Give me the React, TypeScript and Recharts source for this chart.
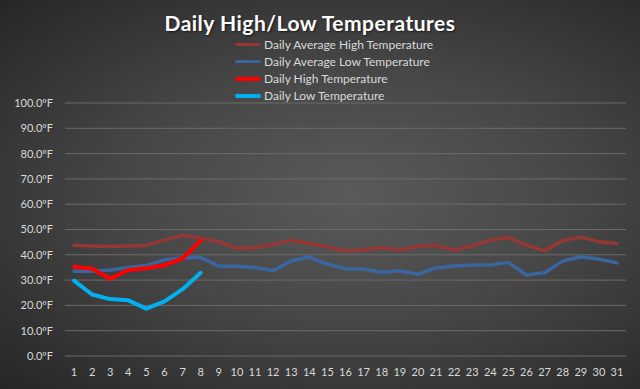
import { LineChart, Line, XAxis, YAxis, CartesianGrid } from "recharts";

const days = Array.from({ length: 31 }, (_, i) => String(i + 1));

const avgHigh = [
  43.8, 43.5, 43.3, 43.5, 43.8, 45.8, 47.7, 46.5, 45.2, 42.5, 42.8, 44.2, 45.7, 44.5, 43.2, 41.5,
  42.1, 42.8, 41.9, 43.3, 43.8, 41.9, 43.5, 45.8, 46.8, 43.7, 41.6, 45.6, 47.0, 45.2, 44.5,
];
const avgLow = [
  33.5, 33.5, 34.0, 35.0, 35.8, 38.0, 38.7, 39.0, 35.5, 35.5, 35.0, 33.7, 37.6, 39.1, 36.3, 34.5,
  34.4, 33.1, 33.7, 32.3, 34.8, 35.6, 36.0, 36.0, 37.0, 32.0, 32.9, 37.5, 39.2, 38.3, 36.8,
];
const dailyHigh = [35.3, 34.5, 30.5, 34.0, 34.7, 35.9, 38.6, 45.6];
const dailyLow = [29.8, 24.3, 22.5, 22.0, 18.7, 21.6, 26.4, 32.9];
const yTicks = [0, 10, 20, 30, 40, 50, 60, 70, 80, 90, 100];

const seriesInfo = [
  { key: "avgHigh", name: "Daily Average High Temperature", color: "#953735", width: 3.5 },
  { key: "avgLow", name: "Daily Average Low Temperature", color: "#3a66a0", width: 3.5 },
  { key: "dailyHigh", name: "Daily High Temperature", color: "#ff0000", width: 4 },
  { key: "dailyLow", name: "Daily Low Temperature", color: "#00b0f0", width: 4 },
];

const data = days.map((d, i) => ({
  day: d,
  avgHigh: avgHigh[i],
  avgLow: avgLow[i],
  dailyHigh: dailyHigh[i],
  dailyLow: dailyLow[i],
}));

const font = "Lato, 'Open Sans', sans-serif";

export default function App() {
  return (
    <div
      style={{
        position: "relative",
        width: 640,
        height: 389,
        background: "radial-gradient(ellipse at 55% 50%, #5a5a5a 0%, #474747 45%, #262626 100%)",
        fontFamily: font,
        overflow: "hidden",
      }}
    >
      <style>{`body{margin:0}`}</style>
      <div
        style={{
          position: "absolute",
          top: 10,
          left: 0,
          width: 620,
          textAlign: "center",
          color: "#ffffff",
          fontWeight: 700,
          fontSize: 21,
          letterSpacing: 0.5,
          textShadow: "1px 1px 2px rgba(0,0,0,0.6)",
        }}
      >
        Daily High/Low Temperatures
      </div>
      {/* legend, stacked under the title */}
      <div
        style={{
          position: "absolute",
          top: 36,
          left: 235,
          fontSize: 12,
          color: "#d9d9d9",
          zIndex: 2,
        }}
      >
        {seriesInfo.map((s) => (
          <div key={s.key} style={{ display: "flex", alignItems: "center", height: 17 }}>
            <div
              style={{
                width: 26,
                height: s.width,
                background: s.color,
                borderRadius: 2,
                marginRight: 3,
              }}
            />
            <span>{s.name}</span>
          </div>
        ))}
      </div>
      <div style={{ position: "absolute", top: 0, left: 0 }}>
        <LineChart
          width={640}
          height={389}
          data={data}
          margin={{ top: 103, right: 14, bottom: 0, left: 0 }}
        >
          <CartesianGrid vertical={false} stroke="#6b6b6b" strokeWidth={1} />
          <XAxis
            dataKey="day"
            axisLine={false}
            tickLine={false}
            tickSize={0}
            tickMargin={12}
            height={33}
            interval={0}
            padding={{ left: 9, right: 9 }}
            tick={{ fill: "#d9d9d9", fontSize: 11, fontFamily: font }}
          />
          <YAxis
            domain={[0, 100]}
            ticks={yTicks}
            width={65}
            axisLine={false}
            tickLine={false}
            tickSize={0}
            tickMargin={12}
            tickFormatter={(v: number) => `${v.toFixed(1)}ºF`}
            tick={{ fill: "#d9d9d9", fontSize: 11, fontFamily: font }}
          />
          {seriesInfo.map((s) => (
            <Line
              key={s.key}
              dataKey={s.key}
              name={s.name}
              type="linear"
              stroke={s.color}
              strokeWidth={s.width}
              dot={false}
              strokeLinejoin="round"
              strokeLinecap="round"
              isAnimationActive={false}
            />
          ))}
        </LineChart>
      </div>
    </div>
  );
}
